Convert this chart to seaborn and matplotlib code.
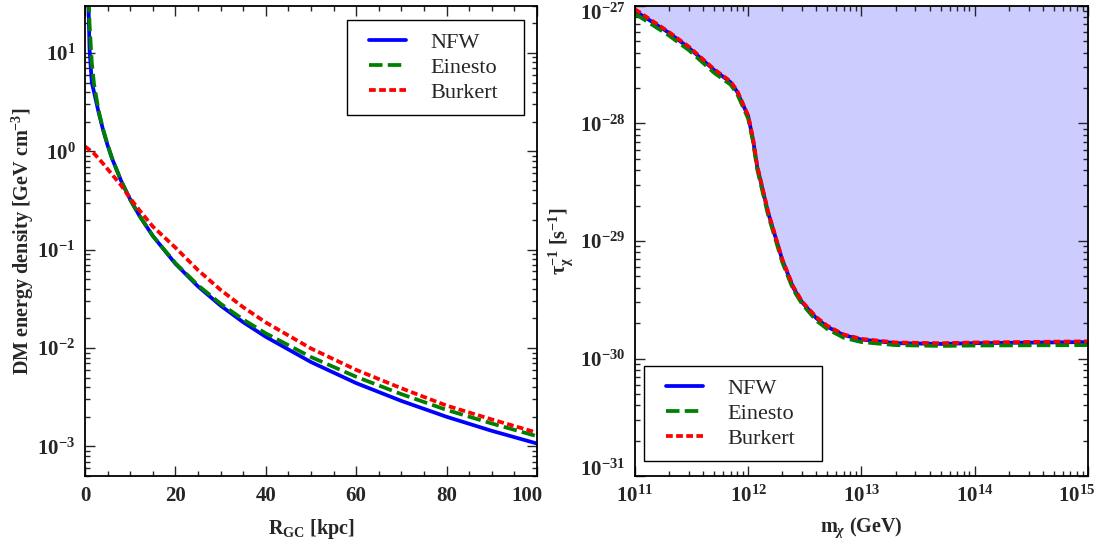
import numpy as np
import pandas as pd
import matplotlib
matplotlib.use("Agg")
import matplotlib.pyplot as plt
import matplotlib.ticker as mticker
import matplotlib.transforms as mtransforms
from matplotlib.lines import Line2D
from matplotlib.legend_handler import HandlerLine2D
import seaborn as sns

# left panel: DM energy density vs galactocentric radius (GeV cm^-3)
r_cusp = [0.6, 0.8, 1.0, 1.5, 2, 3, 4, 5, 6, 8, 10, 12, 15, 20, 25, 30, 35, 40,
          50, 60, 70, 80, 90, 100]
rho_nfw = [50, 28, 11, 5.0, 4.0, 2.5, 1.65, 1.15, 0.84, 0.50, 0.324, 0.223, 0.138,
           0.072, 0.0423, 0.027, 0.0183, 0.013, 0.0072, 0.0044, 0.0029, 0.0020,
           0.00144, 0.00107]
rho_einasto = [70, 40, 20, 8.0, 4.8, 2.6, 1.68, 1.17, 0.85, 0.50, 0.322, 0.222,
               0.138, 0.073, 0.0435, 0.0282, 0.0195, 0.0141, 0.0081, 0.0051,
               0.0034, 0.00235, 0.00171, 0.00127]
r_core = [0, 2, 4, 6, 8, 10, 12, 15, 20, 25, 30, 35, 40, 50, 60, 70, 80, 90, 100]
rho_burkert = [1.12, 0.95, 0.75, 0.58, 0.45, 0.333, 0.253, 0.172, 0.105, 0.062,
               0.039, 0.026, 0.0182, 0.0099, 0.0060, 0.0039, 0.0026, 0.00188,
               0.00138]

# right panel: lifetime bound vs DM mass
m_gev = [1e11, 2e11, 3e11, 5e11, 7e11, 8e11, 1e12, 1.1e12, 1.2e12, 1.5e12, 2e12,
         2.5e12, 3e12, 4e12, 5e12, 7e12, 1e13, 2e13, 5e13, 1e14, 1e15, 1.2e15]
tau_nfw = [9.1e-28, 5.9e-28, 4.4e-28, 2.85e-28, 2.24e-28, 1.86e-28, 1.15e-28,
           7.4e-29, 4.3e-29, 1.74e-29, 6.9e-30, 4.0e-30, 3.0e-30, 2.2e-30,
           1.86e-30, 1.58e-30, 1.45e-30, 1.35e-30, 1.33e-30, 1.35e-30, 1.38e-30,
           1.38e-30]
tau_einasto = [8.6e-28, 5.6e-28, 4.2e-28, 2.7e-28, 2.14e-28, 1.78e-28, 1.1e-28,
               7.1e-29, 4.1e-29, 1.66e-29, 6.6e-30, 3.85e-30, 2.9e-30, 2.1e-30,
               1.78e-30, 1.5e-30, 1.38e-30, 1.3e-30, 1.28e-30, 1.29e-30, 1.3e-30,
               1.3e-30]
tau_burkert = [9.4e-28, 6.0e-28, 4.5e-28, 2.9e-28, 2.28e-28, 1.9e-28, 1.17e-28,
               7.6e-29, 4.4e-29, 1.78e-29, 7.0e-30, 4.1e-30, 3.05e-30, 2.25e-30,
               1.9e-30, 1.6e-30, 1.47e-30, 1.37e-30, 1.35e-30, 1.37e-30, 1.4e-30,
               1.4e-30]

profiles = ["NFW", "Einesto", "Burkert"]
colors = {"NFW": "blue", "Einesto": "green", "Burkert": "red"}
styles = {"NFW": "-", "Einesto": (0, (3.6, 1.4)), "Burkert": (0, (1.8, 0.9))}

sns.set_style("ticks")
plt.rcParams["font.family"] = ["Liberation Serif", "DejaVu Serif"]
plt.rcParams["font.weight"] = "bold"
plt.rcParams["axes.labelweight"] = "bold"
plt.rcParams["mathtext.fontset"] = "custom"
plt.rcParams["mathtext.rm"] = "Liberation Serif:bold"
plt.rcParams["mathtext.bf"] = "Liberation Serif:bold"
plt.rcParams["mathtext.it"] = "Liberation Serif:italic:bold"

fig = plt.figure(figsize=(11.01, 5.40), dpi=100)
ax1 = fig.add_axes([0.0772, 0.1185, 0.4105, 0.8704])
ax2 = fig.add_axes([0.5767, 0.1185, 0.4114, 0.8704])

left = pd.concat([
    pd.DataFrame({"r": r_cusp, "rho": rho_nfw, "profile": "NFW"}),
    pd.DataFrame({"r": r_cusp, "rho": rho_einasto, "profile": "Einesto"}),
    pd.DataFrame({"r": r_core, "rho": rho_burkert, "profile": "Burkert"}),
])
right = pd.DataFrame({
    "m": m_gev * 3,
    "tau": tau_nfw + tau_einasto + tau_burkert,
    "profile": ["NFW"] * len(m_gev) + ["Einesto"] * len(m_gev) + ["Burkert"] * len(m_gev),
})

ax2.fill_between(m_gev, tau_nfw, 1e-27, color="blue", alpha=0.2, lw=0, zorder=0)

for name in profiles:
    d = left[left.profile == name]
    sns.lineplot(x="r", y="rho", data=d, ax=ax1, color=colors[name], lw=2.7,
                 linestyle=styles[name], label=name, estimator=None, sort=False)
    d = right[right.profile == name]
    sns.lineplot(x="m", y="tau", data=d, ax=ax2, color=colors[name], lw=2.7,
                 linestyle=styles[name], label=name, estimator=None, sort=False)

ax1.set_yscale("log")
ax1.set_xlim(0, 100)
ax1.set_ylim(5e-4, 30)
ax1.xaxis.set_major_locator(mticker.FixedLocator([0, 20, 40, 60, 80, 100]))
ax1.xaxis.set_minor_locator(mticker.MultipleLocator(5))
ax1.yaxis.set_major_locator(mticker.FixedLocator([1e-3, 1e-2, 1e-1, 1e0, 1e1]))
ax1.set_xlabel(r"R$_{\mathbf{GC}}$ [kpc]", fontsize=14.5, labelpad=8)
ax1.set_ylabel(r"DM energy density [GeV cm$^{\mathbf{-3}}$]", fontsize=14.5,
               labelpad=1)

ax2.set_xscale("log")
ax2.set_yscale("log")
ax2.set_xlim(1e11, 1e15)
ax2.set_ylim(1e-31, 1e-27)
ax2.xaxis.set_major_locator(mticker.FixedLocator([1e11, 1e12, 1e13, 1e14, 1e15]))
ax2.yaxis.set_major_locator(mticker.FixedLocator([1e-31, 1e-30, 1e-29, 1e-28, 1e-27]))
ax2.set_xlabel(r"m$_{\chi}$ (GeV)", fontsize=14.5, labelpad=6)
ax2.set_ylabel(r"$\mathbf{\tau_{\chi}^{-1}}$ [s$^{\mathbf{-1}}$]", fontsize=14.5,
               labelpad=3)

sci = mticker.FuncFormatter(lambda v, p: r"$\mathbf{10^{%d}}$" % round(np.log10(v)))
for ax in (ax1, ax2):
    ax.yaxis.set_major_formatter(sci)
    ax.yaxis.set_minor_formatter(mticker.NullFormatter())
    ax.tick_params(which="both", direction="in", top=True, right=True, width=1,
                   labelsize=15, pad=7)
    ax.tick_params(which="major", length=7)
    ax.tick_params(which="minor", length=3.5)
    for s in ax.spines.values():
        s.set_linewidth(1.3)
        s.set_color("black")
ax2.xaxis.set_major_formatter(sci)
ax2.xaxis.set_minor_formatter(mticker.NullFormatter())

# legend: short line samples with empty space on both sides, wide box
leg_kw = dict(fontsize=16, frameon=True, fancybox=False, framealpha=1,
              edgecolor="black", handlelength=2.57, handletextpad=0.63,
              labelspacing=0.2, borderpad=0.55, borderaxespad=0, mode="expand",
              handler_map={Line2D: HandlerLine2D(marker_pad=0.45, numpoints=2)})
l1 = ax1.legend(loc="upper right", bbox_to_anchor=(262 / 452, 0.5, 177 / 452, 0.4702),
                **leg_kw)
l2 = ax2.legend(loc="lower left", bbox_to_anchor=(9 / 453, 15 / 470, 178 / 453, 0.5),
                **leg_kw)
for lg in (l1, l2):
    lg.get_frame().set_linewidth(1.0)
    for t in lg.get_texts():
        t.set_fontweight("normal")

# edge tick labels sit a little inward, as in the original
fig.canvas.draw()


def nudge(tick, dx, dy):
    off = mtransforms.ScaledTranslation(dx / 100, dy / 100, fig.dpi_scale_trans)
    tick.label1.set_transform(tick.label1.get_transform() + off)


nudge(ax1.xaxis.get_major_ticks()[-1], -10, 0)
nudge(ax2.xaxis.get_major_ticks()[-1], -11, 0)
nudge(ax2.yaxis.get_major_ticks()[-1], 0, -6)
nudge(ax2.yaxis.get_major_ticks()[0], 0, 8)

fig.savefig("out.png", dpi=100)
